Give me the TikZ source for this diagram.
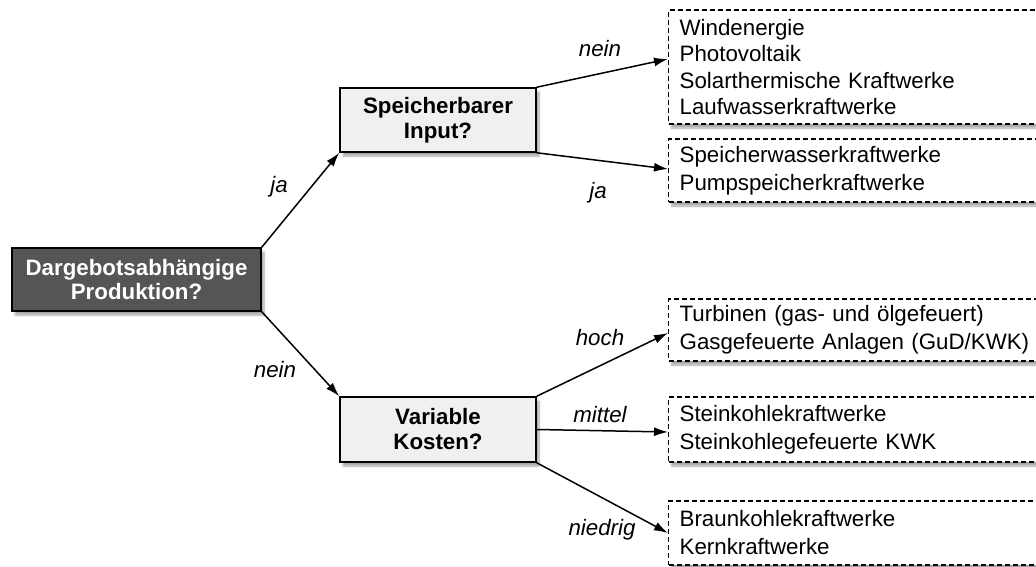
\documentclass[tikz,border=0pt]{standalone}
\usepackage{fontspec}
\setmainfont{Liberation Sans}
\usetikzlibrary{arrows.meta,shadows.blur}
\definecolor{rootfill}{RGB}{85,85,85}
\definecolor{qfill}{RGB}{240,240,240}
\tikzset{
  rootbox/.style={draw=black, line width=1.6pt, fill=rootfill, text=white,
    font=\fontsize{22.3}{24}\selectfont\bfseries, align=center,
    minimum width=249pt, minimum height=63pt, inner sep=0pt,
    blur shadow={shadow xshift=3pt, shadow yshift=-4pt, shadow blur steps=6, shadow opacity=35}},
  qbox/.style={draw=black, line width=1.6pt, fill=qfill, text=black,
    font=\fontsize{22.3}{25}\selectfont\bfseries, align=center,
    minimum width=196pt, minimum height=64pt, inner sep=0pt,
    blur shadow={shadow xshift=3pt, shadow yshift=-4pt, shadow blur steps=6, shadow opacity=35}},
  resbox/.style={draw=black, line width=1.3pt, dash pattern=on 5pt off 3pt, fill=white,
    align=left, text width=360pt, inner xsep=11pt, inner ysep=0pt,
    minimum width=382pt, anchor=west,
    blur shadow={shadow xshift=3pt, shadow yshift=-4pt, shadow blur steps=6, shadow opacity=35}},
  conn/.style={draw=black, line width=1.5pt, -{Latex[length=14pt,width=9pt]}},
  lbl/.style={font=\fontsize{22.3}{25}\selectfont\itshape}
}
\begin{document}
\begin{tikzpicture}[x=1pt,y=-1pt]
\useasboundingbox (0,0) rectangle (1036,567);
\node[rootbox] (root) at (136.5,279.5) {Dargebotsabhängige\\Produktion?};
\node[qbox] (sp) at (438,120) {Speicherbarer\\Input?};
\node[qbox, minimum height=65pt] (var) at (438,429.5) {Variable\\Kosten?};

\node[resbox, minimum height=114pt, font=\fontsize{22.3}{26.3}\selectfont] (b1) at (668,67)
  {Windenergie\\Photovoltaik\\Solarthermische Kraftwerke\\Laufwasserkraftwerke};
\node[resbox, minimum height=63pt, font=\fontsize{22.3}{28}\selectfont] (b2) at (668,170.5)
  {Speicherwasserkraftwerke\\Pumpspeicherkraftwerke};
\node[resbox, minimum height=62pt, font=\fontsize{22.3}{28}\selectfont] (b3) at (668,330)
  {Turbinen (gas- und ölgefeuert)\\Gasgefeuerte Anlagen (GuD/KWK)};
\node[resbox, minimum height=65pt, font=\fontsize{22.3}{28}\selectfont] (b4) at (668,429.5)
  {Steinkohlekraftwerke\\Steinkohlegefeuerte KWK};
\node[resbox, minimum height=64pt, font=\fontsize{22.3}{28}\selectfont] (b5) at (668,533)
  {Braunkohlekraftwerke\\Kernkraftwerke};

\draw[conn] (root.north east) -- (sp.south west);
\draw[conn] (root.south east) -- (var.north west);
\draw[conn] (sp.north east) -- ([yshift=8pt]b1.west);
\draw[conn] (sp.south east) -- ([yshift=1.5pt]b2.west);
\draw[conn] (var.north east) -- ([yshift=-3pt]b3.west);
\draw[conn] (var.east) -- ([yshift=-2.5pt]b4.west);
\draw[conn] (var.south east) -- (b5.west);

\node[lbl] (l1) at (279,187) {ja};
\node[lbl] (l2) at (275,370) {nein};
\node[lbl] (l3) at (600,49) {nein};
\node[lbl] (l4) at (598,193) {ja};
\node[lbl] (l5) at (600,338) {hoch};
\node[lbl] (l6) at (600,415) {mittel};
\node[lbl] (l7) at (602,530) {niedrig};
\end{tikzpicture}
\end{document}
